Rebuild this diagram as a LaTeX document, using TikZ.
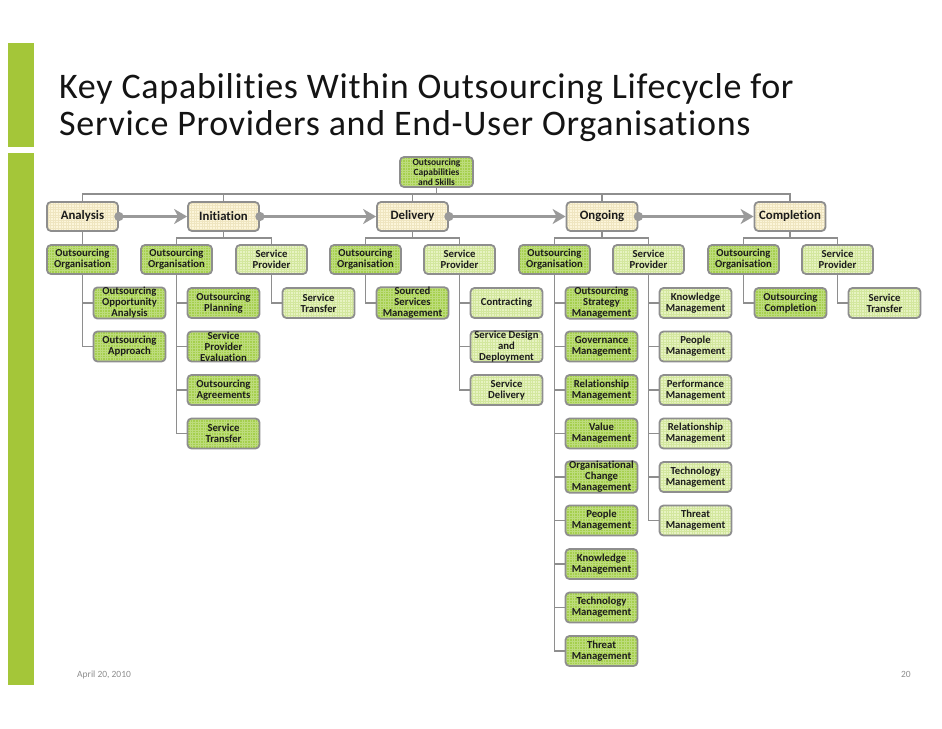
\documentclass[tikz,border=0pt]{standalone}
\usepackage{fontspec}
\setmainfont{Carlito}[Ligatures=NoCommon]
\newfontfamily\titlefont{Carlito}[Ligatures=NoCommon, LetterSpace=2.0]
\usetikzlibrary{arrows.meta}
\definecolor{barG}{HTML}{A4C639}
\definecolor{dkG}{HTML}{A5CF4C}
\definecolor{dkGrid}{HTML}{BDDC7C}
\definecolor{ltG}{HTML}{E7F3C2}
\definecolor{ltGrid}{HTML}{D3E79E}
\definecolor{crm}{HTML}{FCF5DA}
\definecolor{crmGrid}{HTML}{EFE5C0}
\definecolor{edgeG}{HTML}{8E8E8E}
\definecolor{txt}{HTML}{1C1C1C}
\definecolor{titleC}{HTML}{141414}
\definecolor{foot}{HTML}{8C8C8C}
\definecolor{arrG}{HTML}{9A9A9A}
\begin{document}
\begin{tikzpicture}[x=1pt,y=-1pt,
 box/.style={draw=edgeG, line width=1.8pt, rounded corners=4pt, inner sep=0pt, align=center, text=txt,
   font=\bfseries\fontsize{10.7}{11}\selectfont, minimum width=72pt, minimum height=30pt},
 gridded/.style={path picture={\draw[#1, line width=0.4pt, step=2.6pt] (path picture bounding box.south west) grid (path picture bounding box.north east);}},
 dk/.style={box, fill=dkG, gridded=dkGrid},
 lt/.style={box, fill=ltG, gridded=ltGrid},
 ph/.style={box, fill=crm, gridded=crmGrid, font=\bfseries\fontsize{12.8}{14}\selectfont, minimum width=71pt, minimum height=29pt},
 lvtwo/.style={minimum width=71pt, minimum height=29pt},
 link/.style={draw=edgeG, line width=1.6pt},
 flow/.style={draw=arrG, line width=3.5pt, {Circle[length=9pt]}-{Stealth[length=13pt,width=15pt,inset=4pt]}, shorten <=-4.5pt},
 titletext/.style={anchor=base west, inner sep=0pt, text=titleC, font=\titlefont\fontsize{36}{38}\selectfont},
 foottext/.style={inner sep=0pt, text=foot, font=\fontsize{9.5}{11}\selectfont}
]
\useasboundingbox (0,0) rectangle (942,728);
% side bars
\fill[barG] (8,43) rectangle (34,147);
\fill[barG] (8,153) rectangle (34,685);
% title
\node[titletext] (t1) at (59,98) {Key Capabilities Within Outsourcing Lifecycle for};
\node[titletext] (t2) at (59,135) {Service Providers and End-User Organisations};
% footer
\node[foottext, anchor=base west] (date) at (77,677) {April 20, 2010};
\node[foottext, anchor=base east] (pg) at (911,677) {20};

\coordinate (bus) at (0,194);
\coordinate (lbus) at (0,238);

% top
\node[dk, minimum width=73pt, font=\bfseries\fontsize{9.5}{10}\selectfont] (top) at (436.5,172) {Outsourcing\\Capabilities\\and Skills};

% phases
\node[ph] (an) at (82.5,216.5) {Analysis};
\node[ph] (in) at (223.5,216.5) {Initiation};
\node[ph] (de) at (412.5,216.5) {Delivery};
\node[ph] (on) at (602,216.5) {Ongoing};
\node[ph] (co) at (790,216.5) {Completion};

% level 2
\node[dk, lvtwo] (anOO) at (82.5,259.5) {Outsourcing\\Organisation};
\node[dk, lvtwo] (inOO) at (176.5,259.5) {Outsourcing\\Organisation};
\node[lt, lvtwo] (inSP) at (271.5,259.5) {Service\\Provider};
\node[dk, lvtwo] (deOO) at (365.5,259.5) {Outsourcing\\Organisation};
\node[lt, lvtwo] (deSP) at (459.5,259.5) {Service\\Provider};
\node[dk, lvtwo] (onOO) at (554.5,259.5) {Outsourcing\\Organisation};
\node[lt, lvtwo] (onSP) at (648.5,259.5) {Service\\Provider};
\node[dk, lvtwo] (coOO) at (743.5,259.5) {Outsourcing\\Organisation};
\node[lt, lvtwo] (coSP) at (837.5,259.5) {Service\\Provider};

% level 3 - Analysis
\node[dk] (anA) at (129.5,303) {Outsourcing\\Opportunity\\Analysis};
\node[dk] (anB) at (129.5,346.5) {Outsourcing\\Approach};
% Initiation
\node[dk] (inA) at (223.5,303) {Outsourcing\\Planning};
\node[dk] (inB) at (223.5,346.5) {Service\\Provider\\Evaluation};
\node[dk] (inC) at (223.5,390) {Outsourcing\\Agreements};
\node[dk] (inD) at (223.5,433.5) {Service\\Transfer};
\node[lt] (inS) at (318.5,303) {Service\\Transfer};
% Delivery
\node[dk] (deA) at (412.5,303) {Sourced\\Services\\Management};
\node[lt] (deS1) at (506.5,303) {Contracting};
\node[lt] (deS2) at (506.5,346.5) {Service Design\\and\\Deployment};
\node[lt] (deS3) at (506.5,390) {Service\\Delivery};
% Ongoing OO
\node[dk] (onA1) at (601.5,303) {Outsourcing\\Strategy\\Management};
\node[dk] (onA2) at (601.5,346.5) {Governance\\Management};
\node[dk] (onA3) at (601.5,390) {Relationship\\Management};
\node[dk] (onA4) at (601.5,433.5) {Value\\Management};
\node[dk] (onA5) at (601.5,477) {Organisational\\Change\\Management};
\node[dk] (onA6) at (601.5,520.5) {People\\Management};
\node[dk] (onA7) at (601.5,564) {Knowledge\\Management};
\node[dk] (onA8) at (601.5,607.5) {Technology\\Management};
\node[dk] (onA9) at (601.5,651) {Threat\\Management};
% Ongoing SP
\node[lt] (onS1) at (695.5,303) {Knowledge\\Management};
\node[lt] (onS2) at (695.5,346.5) {People\\Management};
\node[lt] (onS3) at (695.5,390) {Performance\\Management};
\node[lt] (onS4) at (695.5,433.5) {Relationship\\Management};
\node[lt] (onS5) at (695.5,477) {Technology\\Management};
\node[lt] (onS6) at (695.5,520.5) {Threat\\Management};
% Completion
\node[dk] (coA) at (790.5,303) {Outsourcing\\Completion};
\node[lt] (coS) at (884.5,303) {Service\\Transfer};

% top bus
\draw[link] (top.south) -- (top.south |- bus);
\draw[link] (an.north) |- (co.north |- bus) -- (co.north);
\foreach \p in {in,de,on} \draw[link] (\p.north) -- (\p.north |- bus);

% phase to level 2
\draw[link] (an.south) -- (anOO.north);
\draw[link] (in.south) -- (in.south |- lbus);
\draw[link] (inOO.north) |- (inSP.north |- lbus) -- (inSP.north);
\draw[link] (de.south) -- (de.south |- lbus);
\draw[link] (deOO.north) |- (deSP.north |- lbus) -- (deSP.north);
\draw[link] (on.south) -- (on.south |- lbus);
\draw[link] (onOO.north) |- (onSP.north |- lbus) -- (onSP.north);
\draw[link] (co.south) -- (co.south |- lbus);
\draw[link] (coOO.north) |- (coSP.north |- lbus) -- (coSP.north);

% level 2 to level 3
\foreach \c in {anA,anB} \draw[link] (anOO.south) |- (\c.west);
\foreach \c in {inA,inB,inC,inD} \draw[link] (inOO.south) |- (\c.west);
\draw[link] (inSP.south) |- (inS.west);
\draw[link] (deOO.south) |- (deA.west);
\foreach \c in {deS1,deS2,deS3} \draw[link] (deSP.south) |- (\c.west);
\foreach \c in {onA1,onA2,onA3,onA4,onA5,onA6,onA7,onA8,onA9} \draw[link] (onOO.south) |- (\c.west);
\foreach \c in {onS1,onS2,onS3,onS4,onS5,onS6} \draw[link] (onSP.south) |- (\c.west);
\draw[link] (coOO.south) |- (coA.west);
\draw[link] (coSP.south) |- (coS.west);

% lifecycle flow
\draw[flow] (an.east) -- (in.west);
\draw[flow] (in.east) -- (de.west);
\draw[flow] (de.east) -- (on.west);
\draw[flow] (on.east) -- (co.west);
\end{tikzpicture}
\end{document}
